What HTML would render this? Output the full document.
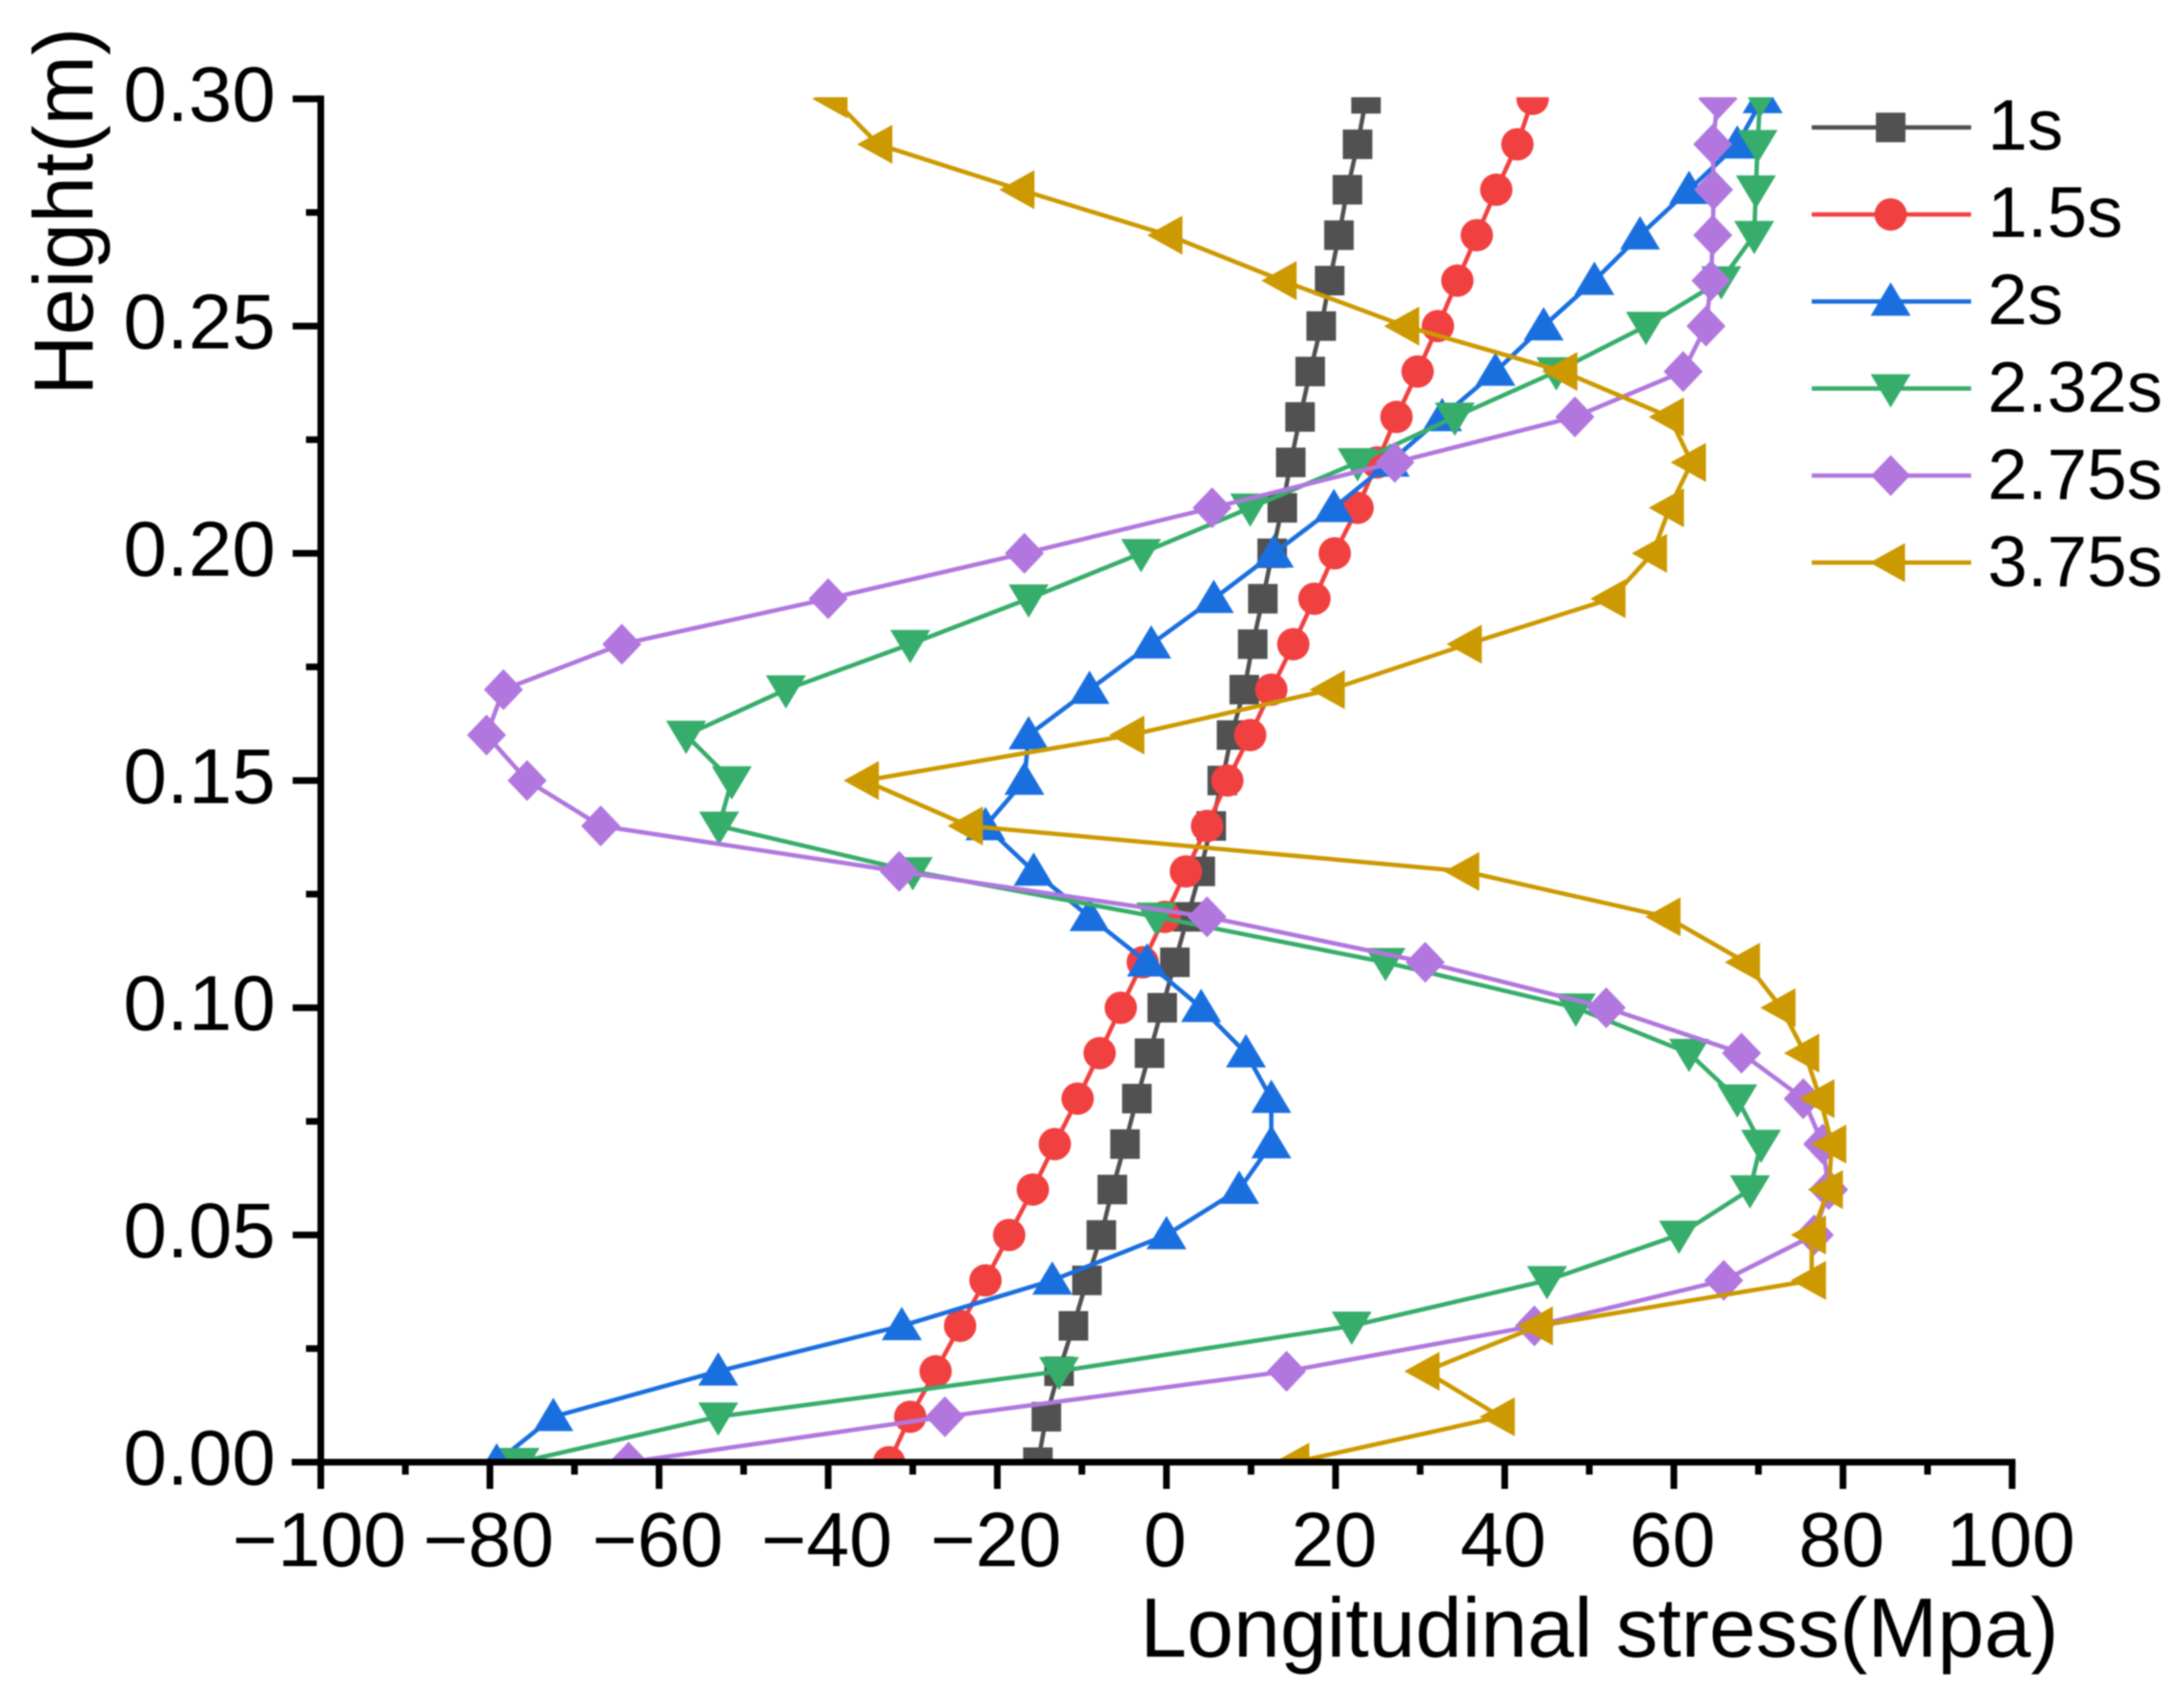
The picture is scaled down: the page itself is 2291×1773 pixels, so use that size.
<!DOCTYPE html>
<html lang="en">
<head>
<meta charset="utf-8">
<title>Longitudinal stress vs height</title>
<style>
  html, body { margin: 0; padding: 0; background: #fff; }
  svg { display: block; filter: blur(0.7px); }
  text { font-family: "Liberation Sans", Arial, sans-serif; fill: #000; }
</style>
</head>
<body>
<svg id="chart" xmlns="http://www.w3.org/2000/svg" width="2291" height="1773" viewBox="0 0 2291 1773">
  <rect x="0" y="0" width="2291" height="1773" fill="#ffffff"/>
  <defs>
    <clipPath id="plot-clip"><rect x="300" y="102" width="1900" height="1432"/></clipPath>
  </defs>
  <g id="plot-area" clip-path="url(#plot-clip)"></g>
  <g id="x-axis"></g>
  <g id="y-axis"></g>
  <text x="1196" y="1738" font-size="88">Longitudinal stress(Mpa)</text>
  <text transform="translate(97 415) rotate(-90)" font-size="88">Height(m)</text>
  <g id="legend"></g>
</svg>
<script>
const heights = [0,0.01,0.02,0.03,0.04,0.05,0.06,0.07,0.08,0.09,0.10,0.11,0.12,0.13,0.14,0.15,0.16,0.17,0.18,0.19,0.20,0.21,0.22,0.23,0.24,0.25,0.26,0.27,0.28,0.29,0.30];

const stress1s   = [-15.2,-14.2,-12.7,-11,-9.4,-7.7,-6.4,-4.9,-3.5,-2,-0.5,1,2.5,4,5.3,6.6,7.7,9.2,10.2,11.4,12.5,13.7,14.7,15.8,17,18.3,19.3,20.4,21.4,22.6,23.6];
const stress1_5s = [-32.8,-30.3,-27.3,-24.4,-21.4,-18.6,-15.8,-13.2,-10.5,-7.9,-5.4,-2.8,-0.2,2.3,4.8,7.2,9.9,12.4,15,17.5,19.9,22.6,24.9,27.2,29.7,32.1,34.4,36.7,39,41.5,43.3];
const stress2s   = [-79.2,-72.5,-53,-31.3,-13.5,0,8.6,12.4,12.4,9.4,4.1,-2.3,-9.1,-15.7,-21.4,-16.8,-16.3,-9.1,-1.8,5.6,12.7,19.8,26.4,32.6,38.9,44.6,50.6,56,61.8,67.5,70.5];
const stress2_32s = [-76.5,-53,-12.7,21.9,45,60.6,69,70.3,67.5,61.8,48.4,25.9,-1.2,-30,-52.9,-51.4,-56.8,-45,-30.3,-16.3,-3,9.9,22.6,34.1,46.1,56.7,65.6,69.5,69.7,69.9,70.2];
const stress2_75s = [-63.6,-26.2,14.2,43.5,65.9,76.6,78.3,77.6,75.3,68,52,30.6,4.8,-31.6,-66.9,-75.6,-80.4,-78.4,-64.4,-40,-16.8,5.4,27,48.3,61.1,63.8,64.4,64.6,64.7,64.6,65.2];
const stress3_75s = [15.2,39.5,30.6,44,76.3,76.3,78.3,78.7,77.3,75.5,72.7,68.5,59.1,35.3,-23.4,-35.7,-4.3,19.4,35.6,52.6,57.5,59.5,62.1,59.5,46.9,28.2,13.7,0.2,-17.3,-34.1,-39.4];

const seriesNames = ["1s","1.5s","2s","2.32s","2.75s","3.75s"];
const xTickValues = [-100,-80,-60,-40,-20,0,20,40,60,80,100];
const xTickLabels = ["\u2212100","\u221280","\u221260","\u221240","\u221220","0","20","40","60","80","100"];
const xMinorValues = [-90,-70,-50,-30,-10,10,30,50,70,90];
const yTickValues = [0,0.05,0.10,0.15,0.20,0.25,0.30];
const yTickLabels = ["0.00","0.05","0.10","0.15","0.20","0.25","0.30"];
const yMinorValues = [0.025,0.075,0.125,0.175,0.225,0.275];

const allSeries = [stress1s, stress1_5s, stress2s, stress2_32s, stress2_75s, stress3_75s];
const colors = ["#515151","#F14040","#1A6FDF","#37AD6B","#B177DE","#CC9900"];
const shapes = ["square","circle","up","down","diamond","left"];

const NS = "http://www.w3.org/2000/svg";
const xScale = v => 336.5 + (v + 100) * (2110.7 - 336.5) / 200;
const yScale = v => 1534 - v * (1534 - 103.7) / 0.30;

function make(tag, attrs, parent) {
  const el = document.createElementNS(NS, tag);
  for (const k in attrs) el.setAttribute(k, attrs[k]);
  parent.appendChild(el);
  return el;
}

function drawMarker(parent, shape, cx, cy, color) {
  let el;
  if (shape === "square") {
    el = make("rect", {x: cx - 15.5, y: cy - 15.5, width: 31, height: 31, fill: color}, parent);
  } else if (shape === "circle") {
    el = make("circle", {cx: cx, cy: cy, r: 17, fill: color}, parent);
  } else {
    let pts;
    if (shape === "up") pts = [[cx, cy - 20], [cx + 21, cy + 15], [cx - 21, cy + 15]];
    if (shape === "down") pts = [[cx, cy + 20], [cx + 21, cy - 15], [cx - 21, cy - 15]];
    if (shape === "left") pts = [[cx - 22, cy], [cx + 15, cy - 20.5], [cx + 15, cy + 20.5]];
    if (shape === "diamond") pts = [[cx, cy - 21.5], [cx + 20.5, cy], [cx, cy + 21.5], [cx - 20.5, cy]];
    el = make("polygon", {points: pts.map(p => p.join(",")).join(" "), fill: color}, parent);
  }
  return el;
}

const plot = document.getElementById("plot-area");
allSeries.forEach((vals, s) => {
  const g = make("g", {}, plot);
  
  
  const pts = vals.map((v, i) => xScale(v).toFixed(1) + "," + yScale(heights[i]).toFixed(1)).join(" ");
  const line = make("polyline", {points: pts, fill: "none", stroke: colors[s], "stroke-width": 4.6, "stroke-linejoin": "round"}, g);
  
  
  vals.forEach((v, i) => {
    const m = drawMarker(g, shapes[s], xScale(v), yScale(heights[i]), colors[s]);
    
    
  });
});

const axisStyle = {stroke: "#000", "stroke-width": 7, fill: "none"};

const xAxis = document.getElementById("x-axis");
const xLine = make("line", Object.assign({x1: 306, y1: 1534, x2: 2114.2, y2: 1534}, axisStyle), xAxis);


xTickValues.forEach((v, i) => {
  const t = make("line", Object.assign({x1: xScale(v), y1: 1534, x2: xScale(v), y2: 1562}, axisStyle), xAxis);
  
  
  const lab = make("text", {x: xScale(v) - 1.5, y: 1643, "font-size": 81, "text-anchor": "middle"}, xAxis);
  lab.textContent = xTickLabels[i];
  
  
});
xMinorValues.forEach(v => {
  const t = make("line", Object.assign({x1: xScale(v), y1: 1534, x2: xScale(v), y2: 1547}, axisStyle), xAxis);
  
  
});

const yAxis = document.getElementById("y-axis");
const yLine = make("line", Object.assign({x1: 336.5, y1: 100.2, x2: 336.5, y2: 1562}, axisStyle), yAxis);


yTickValues.forEach((v, i) => {
  const t = make("line", Object.assign({x1: 307, y1: yScale(v), x2: 336.5, y2: yScale(v)}, axisStyle), yAxis);
  
  
  const lab = make("text", {x: 289, y: yScale(v) + 23.5, "font-size": 82, "text-anchor": "end"}, yAxis);
  lab.textContent = yTickLabels[i];
  
  
});
yMinorValues.forEach(v => {
  const t = make("line", Object.assign({x1: 321, y1: yScale(v), x2: 336.5, y2: yScale(v)}, axisStyle), yAxis);
  
  
});

const legend = document.getElementById("legend");
seriesNames.forEach((name, s) => {
  const ly = 133.7 + 91.3 * s;
  const g = make("g", {}, legend);
  
  
  const l = make("line", {x1: 1900.5, y1: ly, x2: 2067.7, y2: ly, stroke: colors[s], "stroke-width": 4.6}, g);
  
  
  const m = drawMarker(g, shapes[s], 1983.3, ly, colors[s]);
  
  
  const t = make("text", {x: 2085, y: 157 + 91.6 * s, "font-size": 75}, g);
  t.textContent = name;
  
  
});
</script>
</body>
</html>
